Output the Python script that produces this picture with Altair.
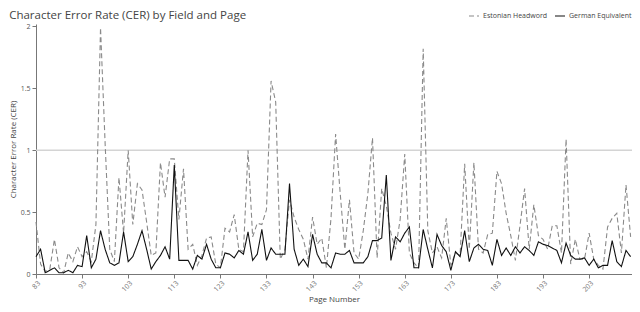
import altair as alt
import pandas as pd

pages = list(range(83, 213))

estonian = [
    0.42, 0.08, 0.02, 0.04, 0.28, 0.05, 0.01, 0.17, 0.10, 0.22,   # 83-92
    0.14, 0.18, 0.10, 0.40, 1.99, 1.05, 0.20, 0.10, 0.78, 0.33,   # 93-102
    1.00, 0.40, 0.73, 0.68, 0.42, 0.15, 0.17, 0.90, 0.62, 0.93,   # 103-112
    0.93, 0.44, 0.85, 0.20, 0.24, 0.07, 0.15, 0.29, 0.30, 0.08,   # 113-122
    0.05, 0.37, 0.34, 0.48, 0.20, 0.18, 1.00, 0.30, 0.41, 0.40,   # 123-132
    0.52, 1.56, 1.39, 0.12, 0.20, 0.60, 0.46, 0.36, 0.28, 0.12,   # 133-142
    0.46, 0.24, 0.29, 0.05, 0.45, 1.13, 0.65, 0.20, 0.60, 0.17,   # 143-152
    0.12, 0.35, 0.65, 1.10, 0.13, 0.69, 0.55, 0.33, 0.20, 0.44,   # 153-162
    0.97, 0.17, 0.09, 0.05, 1.82, 0.35, 0.17, 0.22, 0.13, 0.45,   # 163-172
    0.07, 0.17, 0.15, 0.89, 0.20, 0.90, 0.20, 0.17, 0.32, 0.33,   # 173-182
    0.83, 0.73, 0.49, 0.31, 0.11, 0.39, 0.69, 0.20, 0.56, 0.31,   # 183-192
    0.28, 0.20, 0.39, 0.39, 0.17, 1.09, 0.08, 0.28, 0.12, 0.12,   # 193-202
    0.33, 0.12, 0.07, 0.04, 0.38, 0.45, 0.49, 0.17, 0.72, 0.30,   # 203-212
]

german = [
    0.14, 0.20, 0.01, 0.03, 0.05, 0.01, 0.01, 0.03, 0.01, 0.07,   # 83-92
    0.06, 0.31, 0.05, 0.12, 0.35, 0.20, 0.09, 0.07, 0.09, 0.34,   # 93-102
    0.10, 0.14, 0.24, 0.35, 0.20, 0.04, 0.10, 0.15, 0.22, 0.12,   # 103-112
    0.88, 0.11, 0.11, 0.11, 0.04, 0.15, 0.12, 0.24, 0.12, 0.05,   # 113-122
    0.05, 0.17, 0.16, 0.13, 0.19, 0.16, 0.34, 0.11, 0.16, 0.36,   # 123-132
    0.11, 0.21, 0.16, 0.16, 0.16, 0.73, 0.20, 0.07, 0.12, 0.06,   # 133-142
    0.32, 0.16, 0.09, 0.09, 0.05, 0.17, 0.16, 0.16, 0.19, 0.09,   # 143-152
    0.09, 0.09, 0.14, 0.27, 0.27, 0.29, 0.80, 0.11, 0.30, 0.26,   # 153-162
    0.33, 0.38, 0.05, 0.05, 0.36, 0.20, 0.05, 0.32, 0.23, 0.18,   # 163-172
    0.03, 0.18, 0.14, 0.35, 0.10, 0.21, 0.24, 0.20, 0.19, 0.07,   # 173-182
    0.28, 0.15, 0.21, 0.15, 0.22, 0.17, 0.22, 0.19, 0.15, 0.26,   # 183-192
    0.24, 0.23, 0.21, 0.19, 0.09, 0.25, 0.15, 0.12, 0.12, 0.13,   # 193-202
    0.07, 0.12, 0.05, 0.07, 0.07, 0.27, 0.10, 0.06, 0.19, 0.14,   # 203-212
]

fields = ["Estonian Headword", "German Equivalent"]
x_ticks = [83, 93, 103, 113, 123, 133, 143, 153, 163, 173, 183, 193, 203]
y_ticks = [0, 0.5, 1, 1.5, 2]

rows = []
for p, e, g in zip(pages, estonian, german):
    rows.append({"page": p, "cer": e, "field": fields[0]})
    rows.append({"page": p, "cer": g, "field": fields[1]})
df = pd.DataFrame(rows)

FONT = "Open Sans"

x_enc = alt.X(
    "page:Q",
    title="Page Number",
    scale=alt.Scale(domain=[83, 212.3], nice=False, zero=False),
    axis=alt.Axis(values=x_ticks, format="d", labelAngle=-45, grid=False,
                  tickSize=4, labelPadding=1, labelFontSize=7, titleFontSize=8,
                  titlePadding=3, domainColor="#777", tickColor="#777",
                  labelColor="#777", titleColor="#444", labelFont=FONT, titleFont=FONT,
                  titleFontWeight="normal"),
)
y_enc = alt.Y(
    "cer:Q",
    title="Character Error Rate (CER)",
    scale=alt.Scale(domain=[0, 2.02], nice=False),
    axis=alt.Axis(values=y_ticks, format="~g", grid=False, tickSize=4,
                  labelPadding=2, labelFontSize=7, titleFontSize=8, titlePadding=3,
                  domainColor="#777", tickColor="#777", labelColor="#555",
                  titleColor="#444", labelFont=FONT, titleFont=FONT,
                  titleFontWeight="normal"),
)

rule = alt.Chart(pd.DataFrame({"y": [1]})).mark_rule(color="#d4d4d4", strokeWidth=1.5).encode(
    y=alt.Y("y:Q", scale=alt.Scale(domain=[0, 2.02], nice=False))
)

lines = alt.Chart(df).mark_line(strokeWidth=1.1).encode(
    x=x_enc,
    y=y_enc,
    color=alt.Color(
        "field:N",
        scale=alt.Scale(domain=fields, range=["#8a8a8a", "#111111"]),
        legend=alt.Legend(title=None, orient="none", direction="horizontal",
                          legendX=432, legendY=-14, symbolType="stroke",
                          symbolSize=100, symbolStrokeWidth=1.2, labelFontSize=7,
                          labelFont=FONT, labelColor="#444", columnPadding=4,
                          labelOffset=3, padding=0),
    ),
    strokeDash=alt.StrokeDash(
        "field:N",
        scale=alt.Scale(domain=fields, range=[[5, 3], [1, 0]]),
        legend=None,
    ),
)

chart = alt.layer(rule, lines).properties(
    width=596,
    height=250,
    autosize=alt.AutoSizeParams(type="none"),
    padding={"left": 28, "top": 16, "right": 0, "bottom": 30},
    title=alt.Title("Character Error Rate (CER) by Field and Page", anchor="start",
                    fontSize=11.5, font=FONT, fontWeight="normal", color="#444",
                    offset=2, dy=13.5),
).configure_view(stroke=None)

chart.save("out.html", embed_options={"renderer": "svg", "actions": False})
